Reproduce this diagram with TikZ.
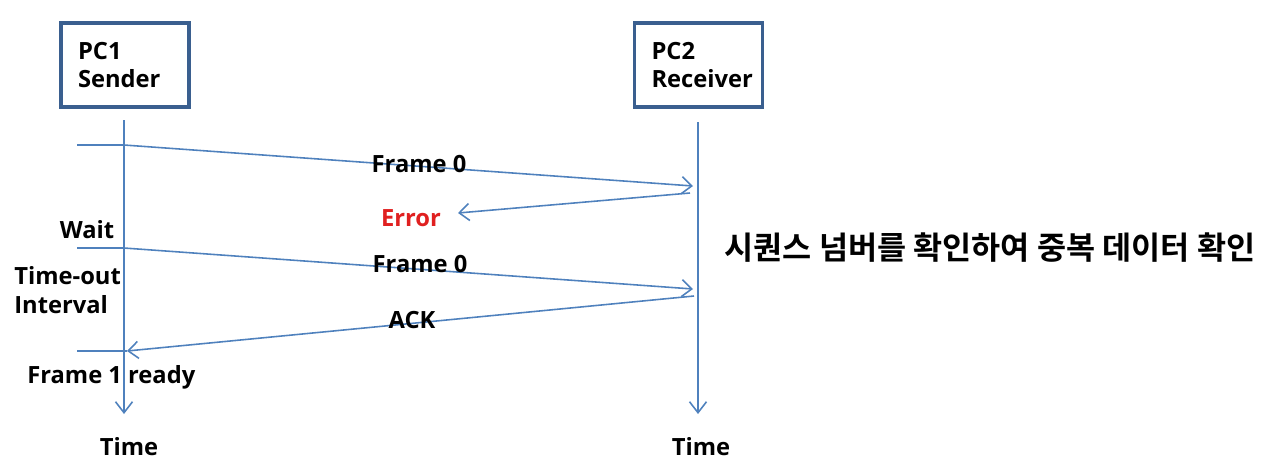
\documentclass[tikz,border=0pt]{standalone}
\usepackage{fontspec}
\setmainfont{Open Sans}
\newfontfamily\krfont{Noto Sans CJK KR Bold}
\usetikzlibrary{arrows.meta, calc, positioning}

\definecolor{lineblue}{HTML}{4F81BD}
\definecolor{boxblue}{HTML}{3A5F8F}
\definecolor{errred}{HTML}{E02020}

\begin{document}
\begin{tikzpicture}[
	x=0.02cm, y=-0.02cm,
	every node/.style = {font=\bfseries\fontsize{13.5}{16}\selectfont, inner sep=0pt},
	pc box/.style = {draw=boxblue, line width=1.8pt, minimum width=2.56cm, minimum height=1.68cm, inner xsep=0.34cm, text width=1.88cm, align=left},
	life line/.style = {draw=lineblue, line width=0.9pt, -{Straight Barb[length=2.2mm, width=3.4mm]}},
	msg/.style = {draw=lineblue, line width=0.9pt, -{Straight Barb[length=2mm, width=3.4mm]}},
	tick/.style = {draw=lineblue, line width=0.9pt},
	msg label/.style = {anchor=base},
	side label/.style = {anchor=base west, align=left}
]

\useasboundingbox (0,0) rectangle (1280,471);

% hosts
\node[pc box] (pc1) at (125,65) {PC1\\Sender};
\node[pc box] (pc2) at (698.5,65) {PC2\\Receiver};

% time lines
\coordinate (s top) at (124,120);
\coordinate (s end) at (124,414);
\coordinate (r top) at (698,122);
\coordinate (r end) at (698,414);
\draw[life line] (s top) -- (s end);
\draw[life line] (r top) -- (r end);
\node[msg label] (s time) at (129,455) {Time};
\node[msg label] (r time) at (701,455) {Time};

% messages
\coordinate (s1) at (124,145);
\coordinate (r1) at (693,186);
\coordinate (r1b) at (690,193);
\coordinate (e1) at (458,213);
\coordinate (s2) at (124,248);
\coordinate (r2) at (693,289);
\coordinate (r2b) at (694,296);
\coordinate (s3) at (127,351);
\coordinate (t1) at (77,145);
\coordinate (t2) at (77,248);
\coordinate (t3) at (77,351);

\draw[tick] (t1) -- (s1);
\draw[tick] (t2) -- (s2);
\draw[tick] (t3) -- (s3);

\draw[msg] (s1) -- (r1);
\draw[msg] (r1b) -- (e1);
\draw[msg] (s2) -- (r2);
\draw[msg] (r2b) -- (s3);

\node[msg label] (f0a) at (419,172) {Frame 0};
\node[msg label, text=errred] (err) at (411,226) {Error};
\node[msg label] (f0b) at (420,272) {Frame 0};
\node[msg label] (ack) at (412,328) {ACK};

% notes on the sender side
\node[msg label] (wait) at (87,238) {Wait};
\node[side label] (timeout) at (14,313) {Time-out\\Interval};
\node[side label] (ready) at (27,383) {Frame 1 ready};

\node[anchor=base, font=\krfont\fontsize{18}{20}\selectfont] (note) at (990,259) {시퀀스 넘버를 확인하여 중복 데이터 확인};

\end{tikzpicture}
\end{document}
